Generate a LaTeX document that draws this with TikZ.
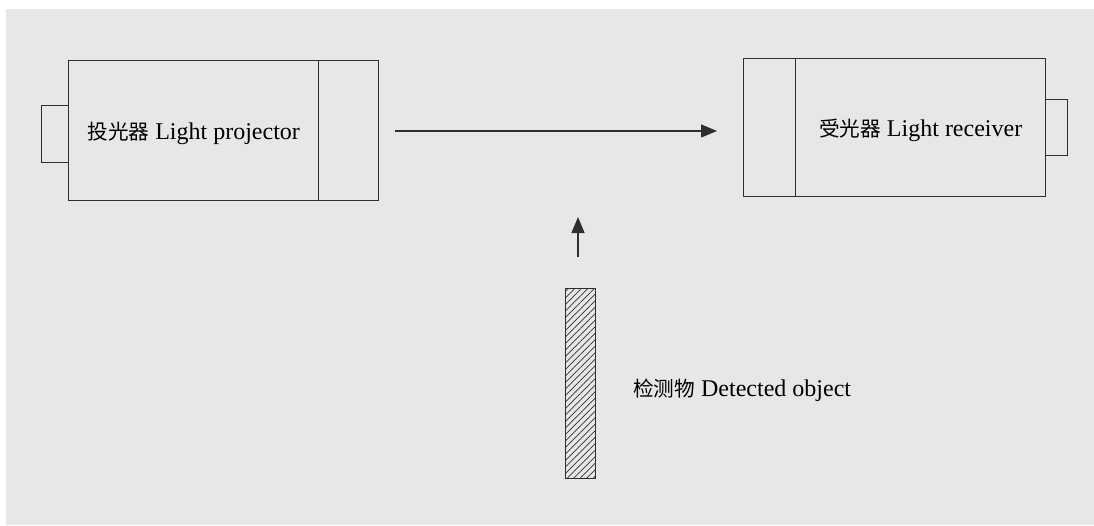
\documentclass[tikz,border=0pt]{standalone}
\usepackage{fontspec}
\setmainfont{Liberation Serif}
\newfontfamily\cjk{Noto Sans CJK SC}[Scale=0.86]
\usetikzlibrary{patterns.meta,arrows.meta}
\definecolor{panel}{HTML}{E6E7E8}
\definecolor{ink}{HTML}{2E2E2E}
\begin{document}
\begin{tikzpicture}[x=1pt,y=-1pt,
  part/.style={draw=ink,line width=1.3pt,rectangle,inner sep=0pt,anchor=north west},
  label/.style={font=\fontsize{24}{28}\selectfont,text=black,inner sep=0pt},
  ray/.style={draw=ink,line width=1.3pt,-{Triangle[length=16pt,width=13pt]}}]
\useasboundingbox (0,0) rectangle (1094,525);
\fill[white] (0,0) rectangle (1094,525);
\fill[panel] (6,9) rectangle (1094,525);
% projector
\node[part,minimum width=27pt,minimum height=57pt] (ptab) at (41,105) {};
\node[part,minimum width=250pt,minimum height=140pt] (pbody) at (68,60) {};
\node[part,minimum width=60pt,minimum height=140pt] (plens) at (318,60) {};
\node[label] (ptxt) at ([yshift=-3pt]pbody.center) {{\cjk 投光器} Light projector};
% receiver
\node[part,minimum width=52pt,minimum height=138pt] (rlens) at (743,58) {};
\node[part,minimum width=250pt,minimum height=138pt] (rbody) at (795,58) {};
\node[part,minimum width=22pt,minimum height=56pt] (rtab) at (1045,99) {};
\node[label] (rtxt) at ([yshift=-3pt]rbody.center) {{\cjk 受光器} Light receiver};
% beam
\coordinate (b1) at (395,131);
\coordinate (b2) at (717,131);
\draw[ray] (b1) -- (b2);
% detected object
\node[part,minimum width=30pt,minimum height=190pt,
  pattern={Lines[angle=45,distance=4.6pt,line width=0.7pt]},pattern color=ink] (obj) at (565,288) {};
\coordinate (m1) at (578,257);
\coordinate (m2) at (578,217);
\draw[ray] (m1) -- (m2);
\node[label,anchor=west] (objtxt) at (633,390) {{\cjk 检测物} Detected object};
\end{tikzpicture}
\end{document}
